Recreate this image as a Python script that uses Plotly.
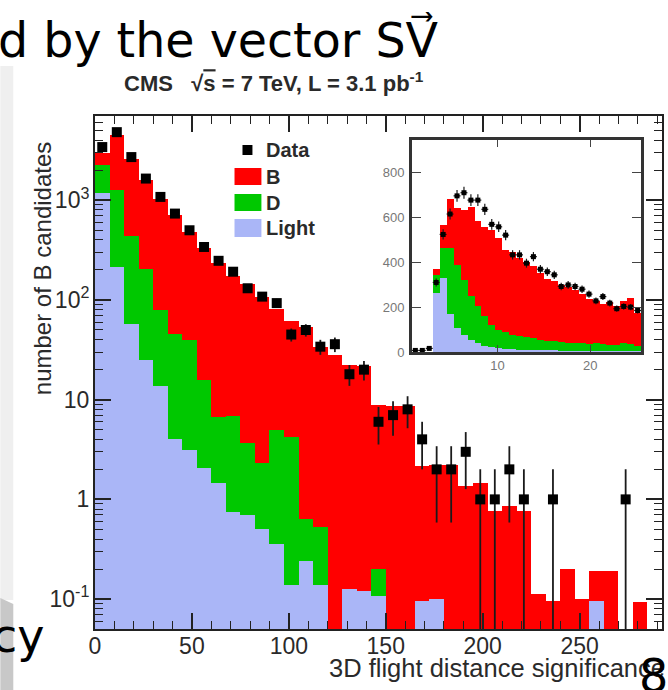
import plotly.graph_objects as go

# ---------------- main histogram: 3D flight distance significance ----------------
BIN_W = 7.5
N_BINS = 39
sig_centers = [BIN_W * (i + 0.5) for i in range(N_BINS)]

data_main = [3415, 4820, 2710, 1650, 1080, 735, 500, 340, 247, 192, 131, 108, 93, 45, 50,
             34, 36, 18, 20, 6, 7, 8, 4, 2, 2, 3, 1, 1, 2, 1, 0, 1, 0, 0, 0, 0, 1, 0, 0]
light_main = [1170, 215, 58, 25, 13.6, 4.0, 3.16, 2.07, 1.47, 0.74, 0.7, 0.5, 0.36, 0.14, 0.24,
              0.14, 0, 0.126, 0.12, 0.108, 0, 0, 0.096, 0.1, 0, 0, 0, 0, 0, 0, 0, 0, 0, 0,
              0.096, 0, 0, 0, 0]
charm_main = [1070, 1045, 377, 180, 66.4, 42, 36.8, 13.7, 5.3, 6.1, 3.0, 1.83, 4.64, 4.06, 0.39,
              0.39, 0, 0, 0, 0.092, 0, 0, 0, 0, 0, 0, 0, 0, 0, 0, 0, 0, 0, 0,
              0, 0, 0, 0, 0]
bottom_main = [710, 3240, 2165, 1395, 960, 664, 445, 314, 228, 168, 141, 104, 77, 58, 52.4,
               33.5, 28, 21.9, 21.4, 8.7, 8.6, 8.6, 2.09, 2.09, 2.19, 1.36, 1.45, 0.76, 0.86, 0.76,
               0.112, 0.096, 0.2, 0.1, 0.094, 0.19, 0, 0.094, 0]

x_tick_vals = [0, 50, 100, 150, 200, 250]
y_tick_vals = [0.1, 1, 10, 100, 1000]
y_tick_text = ["10<sup>-1</sup>", "1", "10", "10<sup>2</sup>", "10<sup>3</sup>"]

# ---------------- inset: low-significance region, linear scale ----------------
IN_W = 0.75
IN_X0 = 0.75
IN_BINS = 33
in_centers = [IN_X0 + IN_W * (i + 0.5) for i in range(IN_BINS)]

data_in = [7, 7, 16, 310, 524, 615, 696, 710, 677, 677, 636, 569, 558, 521, 433, 433, 396,
           425, 369, 358, 344, 292, 299, 292, 280, 258, 228, 247, 218, 193, 203, 200, 185]
light_in = [0, 0, 0, 265, 330, 170, 107, 77, 55, 40, 28, 22, 18, 15, 13, 11, 10, 9, 8, 7, 7,
            6, 6, 5, 5, 5, 4, 4, 4, 4, 3, 3, 3]
charm_in = [0, 0, 0, 80, 132, 292, 283, 243, 195, 165, 132, 98, 82, 73, 65, 59, 56, 53, 47,
            43, 41, 39, 36, 35, 33, 31, 36, 31, 26, 28, 35, 31, 25]
bottom_in = [0, 0, 0, 25, 104, 218, 250, 315, 398, 380, 395, 425, 410, 367, 370, 350, 334,
             323, 295, 275, 270, 255, 248, 235, 222, 202, 188, 180, 195, 173, 190, 206, 147]

RED = "#ff0000"
GREEN = "#00c800"
LIGHT = "#aab6f7"
FONT = "Liberation Sans, Arial, sans-serif"
SLIDE_FONT = "DejaVu Sans, sans-serif"
INK = "#2a2a2a"

W, H = 668, 690
ML, MR, MT, MB = 95, 4, 116, 61
PW, PH = W - ML - MR, H - MT - MB


def fx(px):
    return (px - ML) / PW


def fy(py):
    return (H - MB - py) / PH


fig = go.Figure()

for vals, col in ((light_main, LIGHT), (charm_main, GREEN), (bottom_main, RED)):
    fig.add_bar(x=sig_centers, y=vals, width=BIN_W, marker=dict(color=col, line=dict(width=0)),
                xaxis="x", yaxis="y")

pts = [(c, n) for c, n in zip(sig_centers, data_main) if n > 0]
px_ = [p[0] for p in pts]
py_ = [p[1] for p in pts]
err_up = [n ** 0.5 for n in py_]
err_dn = [min(n ** 0.5, n - 1e-3) for n in py_]
fig.add_scatter(x=px_, y=py_, mode="markers", xaxis="x", yaxis="y",
                marker=dict(symbol="square", size=10, color="black"),
                error_y=dict(type="data", array=err_up, arrayminus=err_dn, symmetric=False,
                             thickness=1.8, width=0, color="#1a1a1a"))

for vals, col in ((light_in, LIGHT), (charm_in, GREEN), (bottom_in, RED)):
    fig.add_bar(x=in_centers, y=vals, width=IN_W, marker=dict(color=col, line=dict(width=0)),
                xaxis="x2", yaxis="y2")

fig.add_scatter(x=in_centers, y=data_in, mode="markers", xaxis="x2", yaxis="y2",
                marker=dict(symbol="square", size=5, color="black"),
                error_y=dict(type="data", array=[n ** 0.5 for n in data_in], thickness=1.2,
                             width=0, color="#1a1a1a"),
                error_x=dict(type="constant", value=IN_W / 2, thickness=1.2, width=0,
                             color="#1a1a1a"))

log_minor = [m * 10 ** e for e in range(-2, 4) for m in range(2, 10)]

fig.update_layout(
    width=W, height=H,
    margin=dict(l=ML, r=MR, t=MT, b=MB, pad=0),
    paper_bgcolor="white", plot_bgcolor="white",
    barmode="stack", bargap=0, showlegend=False,
    font=dict(family=FONT, color=INK),
    xaxis=dict(domain=[0, 1], range=[0, 292.5], showgrid=False, zeroline=False,
               showline=True, linecolor="#222", linewidth=2, mirror="ticks",
               ticks="inside", ticklen=16, tickwidth=1.5, tickcolor="#222",
               tickmode="array", tickvals=x_tick_vals,
               tickfont=dict(size=23, family=FONT, color=INK), ticklabelstandoff=-5,
               minor=dict(dtick=10, tick0=0, ticks="inside", ticklen=8, tickwidth=1.3,
                          tickcolor="#222", showgrid=False)),
    yaxis=dict(domain=[0, 1], type="log", range=[-1.30, 3.845], showgrid=False,
               zeroline=False, showline=True, linecolor="#222", linewidth=2, mirror="ticks",
               ticks="inside", ticklen=16, tickwidth=1.5, tickcolor="#222",
               tickmode="array", tickvals=y_tick_vals, ticktext=y_tick_text,
               tickfont=dict(size=23, family=FONT, color=INK), ticklabelstandoff=-1,
               minor=dict(tickmode="array", tickvals=log_minor, ticks="inside", ticklen=8,
                          tickwidth=1.3, tickcolor="#222", showgrid=False)),
    xaxis2=dict(domain=[fx(413), fx(643)], anchor="y2", range=[IN_X0, IN_X0 + IN_W * IN_BINS],
                showgrid=False, zeroline=False, showline=True, linecolor="#333", linewidth=2.5,
                mirror="ticks", ticks="inside", ticklen=7, tickwidth=1.2, tickcolor="#444",
                tickmode="array", tickvals=[10, 20],
                tickfont=dict(size=13, family=FONT, color="#777")),
    yaxis2=dict(domain=[fy(352), fy(140)], anchor="x2", range=[0, 945], showgrid=False,
                zeroline=False, showline=True, linecolor="#333", linewidth=2.5, mirror="ticks",
                ticks="inside", ticklen=9, tickwidth=1.2, tickcolor="#444",
                tickmode="array", tickvals=[0, 200, 400, 600, 800],
                tickfont=dict(size=13, family=FONT, color="#777"), ticklabelstandoff=2),
)

shapes = []
# inset background
shapes.append(dict(type="rect", xref="paper", yref="paper", x0=fx(413), x1=fx(643),
                   y0=fy(352), y1=fy(140), fillcolor="white", line=dict(width=0), layer="below"))
# legend swatches
for y0, y1, col in ((168, 185, RED), (194, 211, GREEN), (219, 237, LIGHT)):
    shapes.append(dict(type="rect", xref="paper", yref="paper", x0=fx(235), x1=fx(262),
                       y0=fy(y1), y1=fy(y0), fillcolor=col, line=dict(width=0)))
shapes.append(dict(type="rect", xref="paper", yref="paper", x0=fx(243), x1=fx(253),
                   y0=fy(155), y1=fy(145), fillcolor="black", line=dict(width=0)))
# slide background strip on the left
shapes.append(dict(type="rect", xref="paper", yref="paper", x0=fx(0), x1=fx(13),
                   y0=fy(600), y1=fy(66), fillcolor="#efefef", line=dict(width=0)))
shapes.append(dict(type="path", xref="paper", yref="paper",
                   path=f"M {fx(0)},{fy(598)} L {fx(13)},{fy(604)} L {fx(13)},{fy(690)} "
                        f"L {fx(0)},{fy(690)} Z",
                   fillcolor="#c8c8c8", line=dict(width=0)))
fig.update_layout(shapes=shapes)

ann = []


def text(px, py, s, size, family=FONT, xanchor="left", angle=0, color=INK):
    ann.append(dict(x=fx(px), y=fy(py), xref="paper", yref="paper", text=s, showarrow=False,
                    xanchor=xanchor, yanchor="middle", textangle=angle,
                    font=dict(size=size, family=family, color=color)))


for label, yy in (("Data", 150), ("B", 177), ("D", 203), ("Light", 228)):
    text(265, yy, f"<b>{label}</b>", 20)

text(122, 82, "<b>CMS\u00a0\u00a0\u00a0\u221a<span style='text-decoration:overline'>s</span>"
              " = 7 TeV, L = 3.1 pb<sup>-1</sup></b>", 22)
text(42, 268, "number of B candidates", 24, xanchor="center", angle=-90)
text(669, 668, "3D flight distance significance", 25.5, xanchor="right")

# slide text around the figure
text(442, 40, "d by the vector SV\u20d7", 47.5, family=SLIDE_FONT, xanchor="right",
     color="black")
text(47, 636, "cy", 46, family=SLIDE_FONT, xanchor="right", color="black")
text(655, 676, "8", 46, family=SLIDE_FONT, xanchor="center", color="black")

fig.update_layout(annotations=ann)
fig.write_html("out.html")
